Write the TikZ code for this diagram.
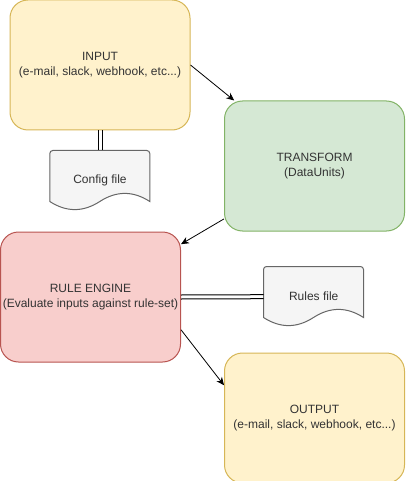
\documentclass[tikz,border=0pt]{standalone}
\usepackage{fontspec}
\setmainfont{Liberation Sans}
\usepackage{tikz}
\usetikzlibrary{positioning,arrows.meta,backgrounds,calc}

\definecolor{yelfill}{HTML}{FFF2CC}
\definecolor{yelline}{HTML}{D6B656}
\definecolor{grnfill}{HTML}{D5E8D4}
\definecolor{grnline}{HTML}{82B366}
\definecolor{redfill}{HTML}{F8CECC}
\definecolor{redline}{HTML}{B85450}
\definecolor{filefill}{HTML}{F5F5F5}
\definecolor{fileline}{HTML}{666666}
\definecolor{filetext}{HTML}{333333}

% outline of a file node (wavy bottom)
\newcommand{\docshape}[1]{%
  \begin{scope}[shift={(#1.north west)}]
    \filldraw[fill=filefill, draw=fileline, line width=1pt]
      (0pt,-51pt) -- (0pt,-3pt) arc[start angle=180, end angle=90, radius=3pt]
      -- (97pt,0pt) arc[start angle=90, end angle=0, radius=3pt]
      -- (100pt,-51pt) .. controls (83.33pt,-40.2pt) and (66.67pt,-40.2pt) .. (50pt,-51pt)
      .. controls (33.33pt,-61.8pt) and (16.67pt,-61.8pt) .. (0pt,-51pt) -- cycle;
  \end{scope}}

\begin{document}
\begin{tikzpicture}[
roundednode/.style={rectangle, rounded corners=18pt, line width=1pt, minimum width=180pt, minimum height=130pt, inner sep=0pt, align=center, font=\fontsize{12pt}{14.5pt}\selectfont, text=filetext},
filenode/.style={rectangle, minimum width=100pt, minimum height=60pt, inner sep=0pt, align=center, font=\fontsize{12pt}{14.5pt}\selectfont, text=filetext},
arrowline/.style={-{Stealth[length=8pt, width=7pt]}, line width=0.8pt, black},
linkline/.style={line width=1pt, black},
]
\useasboundingbox (0pt,0pt) rectangle (405pt,-481pt);

%Nodes
\node[roundednode, fill=yelfill, draw=yelline] (input)    at (100pt,-65pt)                     {INPUT\\(e-mail, slack, webhook, etc...)};
\node[roundednode, fill=grnfill, draw=grnline] (transform) [below right=-30pt and 33.5pt of input] {TRANSFORM\\(DataUnits)};
\node[roundednode, fill=redfill, draw=redline] (rule)     [below left=0pt and 43pt of transform]   {RULE ENGINE\\(Evaluate inputs against rule-set)};
\node[roundednode, fill=yelfill, draw=yelline] (output)   [below right=-10pt and 43pt of rule]     {OUTPUT\\(e-mail, slack, webhook, etc...)};
\node[filenode]                                (config)   [below=20pt of input]                   {Config file};
\node[filenode]                                (rules)    [below right=35pt and 82.5pt of rule.north east] {Rules file};

\begin{scope}[on background layer]
\docshape{config}
\docshape{rules}
\end{scope}

\coordinate (ruleout)  at ($(rule.north east)!0.75!(rule.south east)$);
\coordinate (outputin) at ($(output.north west)!0.25!(output.south west)$);

%Lines
\draw[arrowline] (input.east) -- (transform);
\draw[arrowline] (transform) -- (rule);
\draw[arrowline] (ruleout) -- (outputin);
\draw[linkline] ([xshift=-2pt]input.south) -- ([xshift=-2pt]config.north);
\draw[linkline] ([xshift=2pt]input.south) -- ([xshift=2pt]config.north);
\draw[linkline] ([yshift=2pt]rule.east) -- ([yshift=2pt]rules.west);
\draw[linkline] ([yshift=-2pt]rule.east) -- ([yshift=-2pt]rules.west);
\end{tikzpicture}
\end{document}
